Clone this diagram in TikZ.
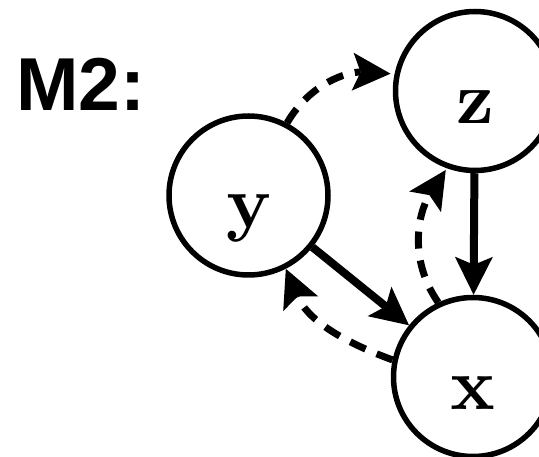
\documentclass[tikz,border=0pt]{standalone}
\usepackage{fontspec}
\newfontfamily\headfont{Liberation Sans}
\newfontfamily\varfont{lmroman10-bold}[Extension=.otf]
\usetikzlibrary{arrows.meta}

\tikzset{
  var/.style={circle, draw, line width=5.5pt, minimum size=159pt, inner sep=0pt,
    text height=65pt, text depth=0pt,
    font=\varfont\fontsize{74}{80}\selectfont},
  solidarrow/.style={line width=8pt, -{Stealth[length=38pt, width=38pt, inset=8pt, line width=0pt]}},
  dasharrow/.style={line width=7pt, dash pattern=on 17pt off 12pt,
    -{Stealth[length=38pt, width=38pt, inset=8pt, line width=0pt]}},
  title/.style={inner sep=0pt, font=\headfont\bfseries\fontsize{75}{80}\selectfont}
}

\begin{document}
\begin{tikzpicture}[x=1pt, y=-1pt]
  \useasboundingbox (0,0) rectangle (539,457);
  \clip (0,0) rectangle (539,457);

  % model label
  \node[title] (m2) at (81,84) {M2:};

  % variables
  \node[var] (y) at (248.5,195.5) {y};
  \node[var] (z) at (475,91) {z};
  \node[var] (x) at (473,377) {x};

  % direct effects
  \draw[solidarrow] (y) -- (x);
  \draw[solidarrow] (z) -- (x);

  % dashed links
  \draw[dasharrow, shorten >=4pt] (y.62) to[out=60, in=177] (z.168);
  \draw[dasharrow, shorten >=2pt] (x.115) to[out=125, in=237] (z.250);
  \draw[dasharrow] (x.168) to[out=160, in=293] (y.297);
\end{tikzpicture}
\end{document}
